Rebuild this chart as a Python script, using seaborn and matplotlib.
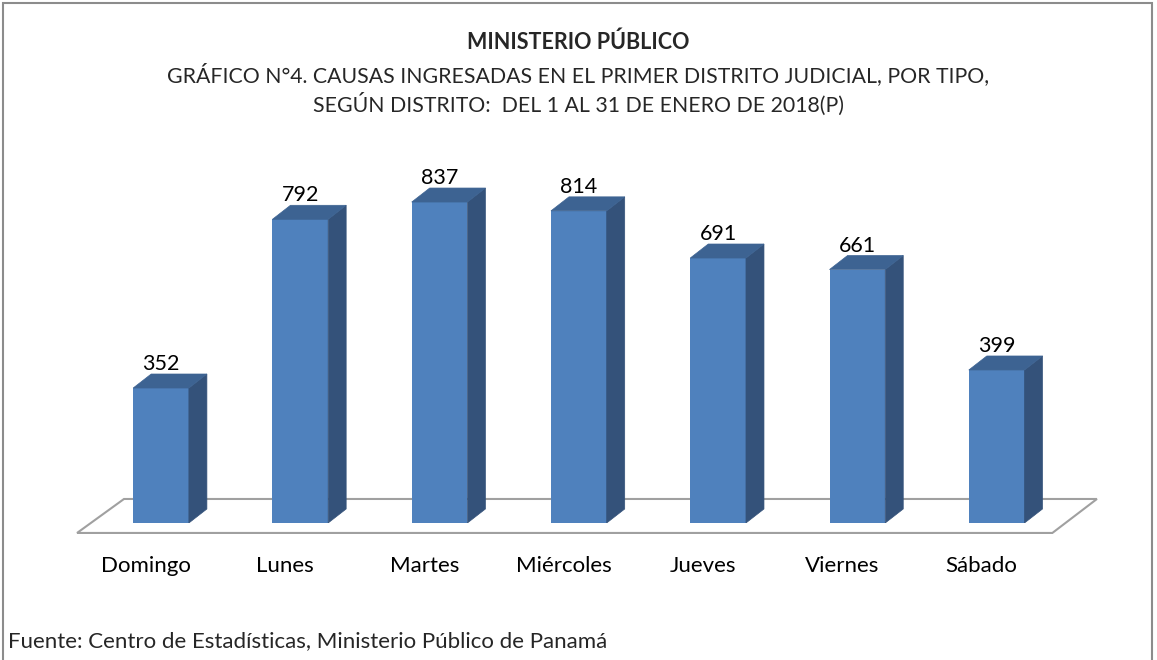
"""Causas ingresadas por día de la semana, enero 2018."""

import matplotlib
matplotlib.use("Agg")
import matplotlib.pyplot as plt
from matplotlib.patches import Polygon, Rectangle
import seaborn as sns

dias = ["Domingo", "Lunes", "Martes", "Miércoles", "Jueves", "Viernes", "Sábado"]
causas = [352, 792, 837, 814, 691, 661, 399]

titulo = "MINISTERIO PÚBLICO"
subtitulo_1 = "GRÁFICO N°4. CAUSAS INGRESADAS EN EL PRIMER DISTRITO JUDICIAL, POR TIPO,"
subtitulo_2 = "SEGÚN DISTRITO:  DEL 1 AL 31 DE ENERO DE 2018(P)"
fuente = "Fuente: Centro de Estadísticas, Ministerio Público de Panamá"

FRONT = "#4f81bd"
SIDE = "#34527a"
TOP = "#3d6392"

sns.set_style("white")
plt.rcParams["font.family"] = ["Lato", "DejaVu Sans"]

fig = plt.figure(figsize=(11.57, 6.6), dpi=100)
ax = fig.add_axes([0.079, 0.2076, 0.8426, 0.581])
sns.barplot(x=dias, y=causas, color=FRONT, width=0.4, saturation=1,
            linewidth=0, ax=ax, zorder=3)
ax.set_xlim(-0.5, 6.5)
ax.set_ylim(0, 1000)
ax.axis("off")

# depth of the fake 3d bars, in data units (18 px right, 14 px up)
px_x = 0.8426 * 1157 / 7.0
px_y = 0.581 * 660 / 1000.0
dx = 18 / px_x
dy = 14 / px_y

# floor
floor = Polygon([(-0.603, -26), (6.40, -26), (6.72, 62.6), (-0.266, 62.6)],
                closed=True, facecolor="white", edgecolor="#a0a0a0",
                lw=1.5, zorder=1, clip_on=False)
ax.add_patch(floor)

for i, bar in enumerate(ax.patches[:len(causas)]):
    x0 = bar.get_x()
    x1 = x0 + bar.get_width()
    h = bar.get_height()
    side = Polygon([(x1, 0), (x1 + dx, dy), (x1 + dx, h + dy), (x1, h)],
                   closed=True, facecolor=SIDE, edgecolor=SIDE, lw=0.5, zorder=3)
    top = Polygon([(x0, h), (x1, h), (x1 + dx, h + dy), (x0 + dx, h + dy)],
                  closed=True, facecolor=TOP, edgecolor=TOP, lw=0.5, zorder=3)
    ax.add_patch(side)
    ax.add_patch(top)
    ax.text(i, h + dy, str(causas[i]), ha="center", va="bottom",
            fontsize=15.5, color="black", zorder=4)
    ax.text(i - 15 / px_x, -43 / px_y, dias[i], ha="center", va="center",
            fontsize=16, color="black", clip_on=False)

fig.text(0.5, 1 - 42 / 660, titulo, ha="center", va="center",
         fontsize=15.5, fontweight="bold")
fig.text(0.5, 1 - 75 / 660, subtitulo_1, ha="center", va="center", fontsize=15.3)
fig.text(0.5, 1 - 104 / 660, subtitulo_2, ha="center", va="center", fontsize=15.3)
fig.text(8 / 1157, 1 - 641 / 660, fuente, ha="left", va="center", fontsize=16)

# outer frame, bottom edge falls outside the picture
fig.patches.append(Rectangle((3 / 1157, -0.05), 1149 / 1157, 1.05 - 3 / 660,
                             transform=fig.transFigure, fill=False,
                             edgecolor="#8c8c8c", lw=1.5))

fig.savefig("out.png", dpi=100)
